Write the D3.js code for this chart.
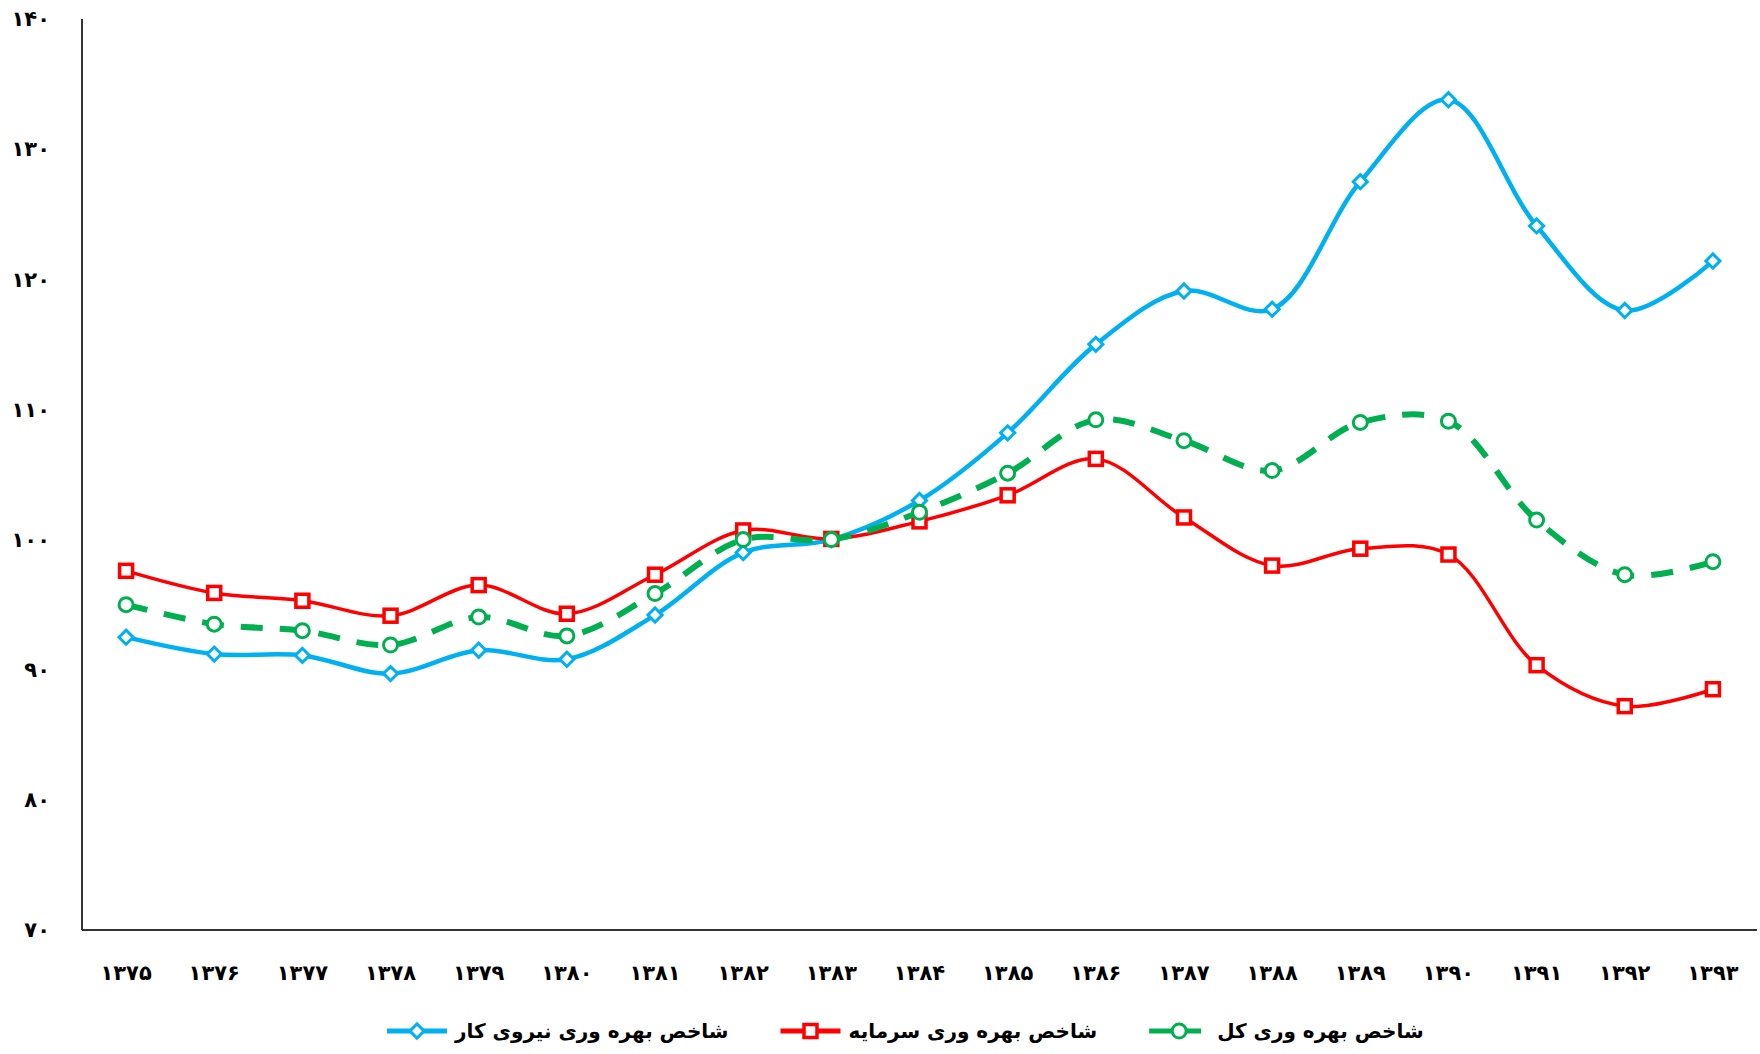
<!DOCTYPE html>
<html>
<head>
<meta charset="utf-8">
<script src="https://cdn.jsdelivr.net/npm/d3@7"></script>
<style>
  body { margin: 0; background: #fff; }
  svg text { font-family: "DejaVu Sans", sans-serif; font-weight: bold; }
</style>
</head>
<body>
<div id="chart"></div>
<script>
// years (Persian calendar) shown on the x axis
const years = ["۱۳۷۵", "۱۳۷۶", "۱۳۷۷", "۱۳۷۸", "۱۳۷۹", "۱۳۸۰", "۱۳۸۱", "۱۳۸۲", "۱۳۸۳", "۱۳۸۴",
  "۱۳۸۵", "۱۳۸۶", "۱۳۸۷", "۱۳۸۸", "۱۳۸۹", "۱۳۹۰", "۱۳۹۱", "۱۳۹۲", "۱۳۹۳"];

// labour productivity index
const labour = [92.5, 91.2, 91.1, 89.7, 91.5, 90.8, 94.2, 99.0, 100.0, 103.0,
  108.2, 115.0, 119.1, 117.7, 127.5, 133.8, 124.1, 117.6, 121.4];
// capital productivity index
const capital = [97.6, 95.9, 95.3, 94.15, 96.5, 94.3, 97.3, 100.7, 100.05, 101.4,
  103.4, 106.2, 101.7, 98.0, 99.3, 98.85, 90.35, 87.2, 88.5];
// total productivity index
const total = [95.0, 93.5, 93.0, 91.9, 94.05, 92.6, 95.85, 100.0, 100.0, 102.1,
  105.1, 109.2, 107.6, 105.3, 109.0, 109.1, 101.5, 97.3, 98.3];

const yTicks = [70, 80, 90, 100, 110, 120, 130, 140];
const toFa = (n) => String(n).replace(/\d/g, (c) => "۰۱۲۳۴۵۶۷۸۹"[c]);

const series = [
  { name: "شاخص بهره وری نیروی کار", values: labour, color: "#00b0f0", width: 4.5, dash: null, marker: "diamond" },
  { name: "شاخص بهره وری سرمایه", values: capital, color: "#ff0000", width: 3.5, dash: null, marker: "square" },
  { name: "شاخص بهره وری کل", values: total, color: "#00b050", width: 6, dash: "22,17", marker: "circle" },
];

const width = 1760;
const height = 1054;
const margin = { top: 19, right: 3, bottom: 124, left: 82 };

const x = d3.scalePoint(years, [margin.left, width - margin.right]).padding(0.5);
const y = d3.scaleLinear([70, 140], [height - margin.bottom, margin.top]);

const svg = d3.select("#chart").append("svg")
  .attr("width", width)
  .attr("height", height);

// axes
svg.append("line")
  .attr("x1", margin.left).attr("x2", margin.left)
  .attr("y1", y(140)).attr("y2", y(70))
  .attr("stroke", "#333").attr("stroke-width", 2);
svg.append("line")
  .attr("x1", margin.left).attr("x2", width - margin.right)
  .attr("y1", y(70)).attr("y2", y(70))
  .attr("stroke", "#333").attr("stroke-width", 2);

svg.append("g")
  .selectAll("text")
  .data(yTicks)
  .join("text")
  .attr("x", 50)
  .attr("y", (d) => y(d))
  .attr("dy", "0.35em")
  .attr("text-anchor", "end")
  .attr("font-size", 21)
  .text((d) => toFa(d));

svg.append("g")
  .selectAll("text")
  .data(years)
  .join("text")
  .attr("x", (d) => x(d))
  .attr("y", 973)
  .attr("dy", "0.35em")
  .attr("text-anchor", "middle")
  .attr("font-size", 21)
  .text((d) => d);

const line = d3.line()
  .x((d, i) => x(years[i]))
  .y((d) => y(d))
  .curve(d3.curveCatmullRom.alpha(0.5));

function drawMarker(g, type, color) {
  if (type === "diamond") {
    g.append("rect").attr("x", -5).attr("y", -5).attr("width", 10).attr("height", 10)
      .attr("transform", "rotate(45)")
      .attr("fill", "#fff").attr("stroke", color).attr("stroke-width", 3);
  } else if (type === "square") {
    g.append("rect").attr("x", -6.5).attr("y", -6.5).attr("width", 13).attr("height", 13)
      .attr("fill", "#fff").attr("stroke", color).attr("stroke-width", 3.5);
  } else {
    g.append("circle").attr("r", 7)
      .attr("fill", "#fff").attr("stroke", color).attr("stroke-width", 3);
  }
}

series.forEach((s) => {
  const g = svg.append("g");
  g.append("path")
    .attr("d", line(s.values))
    .attr("fill", "none")
    .attr("stroke", s.color)
    .attr("stroke-width", s.width)
    .attr("stroke-dasharray", s.dash);
  g.selectAll("g")
    .data(s.values)
    .join("g")
    .attr("transform", (d, i) => `translate(${x(years[i])},${y(d)})`)
    .each(function () { drawMarker(d3.select(this), s.marker, s.color); });
});

// legend
const legend = svg.append("g").attr("transform", "translate(0,1031)");
let lx = 387;
series.forEach((s) => {
  const item = legend.append("g");
  item.append("line")
    .attr("x1", lx).attr("x2", lx + 60)
    .attr("stroke", s.color)
    .attr("stroke-width", 5)
    .attr("stroke-dasharray", s.dash ? "22,8" : null);
  drawMarker(item.append("g").attr("transform", `translate(${lx + 30},0)`), s.marker, s.color);
  const t = item.append("text")
    .attr("x", lx + 68)
    .attr("dy", "0.35em")
    .attr("font-size", 20)
    .text(s.name);
  lx += 68 + t.node().getComputedTextLength() + 52;
});
</script>
</body>
</html>
